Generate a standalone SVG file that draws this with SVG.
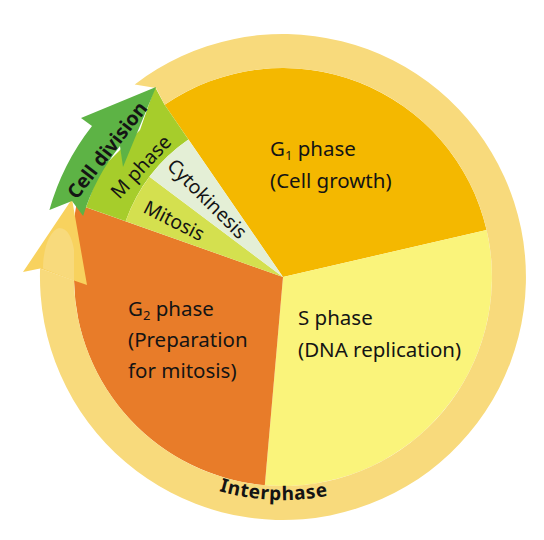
<svg xmlns="http://www.w3.org/2000/svg" width="544" height="540" viewBox="0 0 544 540">
<style>
.t{font-family:"Noto Sans","Open Sans",sans-serif;font-size:20.5px;fill:#141414}
.r{font-family:"Noto Sans","Open Sans",sans-serif;font-size:19.5px;fill:#141414}
.b{font-family:"Noto Sans","Open Sans",sans-serif;font-weight:bold;fill:#141414}
.sub{font-size:13px}
</style>
<defs>
<path id="ipath" d="M87.3,390 A229,229 0 0,0 478.7,390"/>
</defs>
<rect width="544" height="540" fill="#ffffff"/>
<g id="g1-phase">
<path d="M283,277 L164.6,104.8 A209,209 0 0,1 486.6,230 Z" fill="#F4B800"/>
<text class="t" x="270" y="156">G<tspan class="sub" dy="4">1</tspan><tspan dy="-4"> phase</tspan></text>
<text class="t" x="270" y="188">(Cell growth)</text>
</g>
<g id="s-phase">
<path d="M283,277 L486.6,230 A209,209 0 0,1 264.8,485.2 Z" fill="#FAF47B"/>
<text class="t" x="298" y="325">S phase</text>
<text class="t" x="298" y="357">(DNA replication)</text>
</g>
<g id="g2-phase">
<path d="M283,277 L264.8,485.2 A209,209 0 0,1 74,280.6 L75,213 L76.6,203.9 Z" fill="#E87C29"/>
<text class="t" x="128" y="316">G<tspan class="sub" dy="4">2</tspan><tspan dy="-4"> phase</tspan></text>
<text class="t" x="128" y="347">(Preparation</text>
<text class="t" x="128" y="378">for mitosis)</text>
</g>
<g id="m-phase">
<path d="M125.6,221.2 L86,207.2 L100,170 L140,130 L155,87 L164.6,104.8 L188.4,139.4 A167,167 0 0,0 125.6,221.2 Z" fill="#A6CD2B"/>
<text class="r" transform="translate(141,167) rotate(-47)" text-anchor="middle" y="6.5">M phase</text>
</g>
<g id="mitosis">
<path d="M283,277 L125.6,221.2 A167,167 0 0,1 149.5,176.7 Z" fill="#D4E04F"/>
<text class="r" transform="translate(174,221) rotate(27)" text-anchor="middle" y="6.5">Mitosis</text>
</g>
<g id="cytokinesis">
<path d="M283,277 L149.5,176.7 A167,167 0 0,1 188.4,139.4 Z" fill="#E4EFD6"/>
<text class="r" transform="translate(207,199) rotate(45)" text-anchor="middle" y="6.5">Cytokinesis</text>
</g>
<g id="interphase">
<path d="M134.7,84.5 A243,243 0 1,1 40.1,268.5 L74,280.6 A209,209 0 1,0 164.6,104.8 L156,88 Z" fill="#F8DA7C"/>
<polygon points="40.1,268.5 23,272 72,199 87,285 74,280.6" fill="#F8D25E"/>
<path d="M43,268.5 C43,248 50,230 59,228 C68,228 72,238 74,250 L74,280.6 Z" fill="#F8DA7C"/>
<text class="b" font-size="19" letter-spacing="0.6"><textPath href="#ipath" startOffset="225" text-anchor="middle">Interphase</textPath></text>
</g>
<g id="cell-division">
<path d="M49.4,210 A243,243 0 0,1 92,126 L81,118 L156,87 L123,167 L120,146 A209,209 0 0,0 83.1,215.9 L72,201 Z" fill="#5DB345"/>
<text class="b" font-size="19.5" transform="translate(107,150) rotate(-52)" text-anchor="middle" y="7">Cell division</text>
</g>
<g id="connectors"></g>
</svg>
